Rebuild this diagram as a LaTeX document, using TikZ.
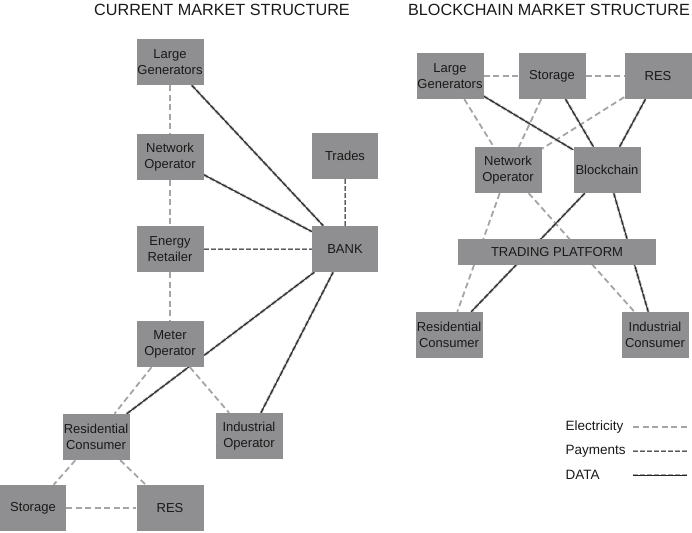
\documentclass[tikz,border=0pt]{standalone}
\usepackage{fontspec}
\setmainfont{Liberation Sans}
\usetikzlibrary{backgrounds}
\definecolor{boxfill}{RGB}{143,143,145}
\definecolor{elgray}{RGB}{165,165,165}
\definecolor{txt}{RGB}{25,25,25}
\tikzset{
  box/.style={fill=boxfill, minimum width=67pt, minimum height=46pt, inner sep=0pt,
    align=center, font=\fontsize{13}{16}\selectfont, text=txt},
  title/.style={font=\fontsize{16.2}{19}\selectfont, text=txt},
  legtext/.style={font=\fontsize{13.5}{15}\selectfont, text=txt, anchor=west},
  elec/.style={draw=elgray, line width=1.8pt, dash pattern=on 6pt off 3.5pt},
  paydata/.style={preaction={draw=elgray, line width=2.6pt, dash pattern=on 5pt off 2pt},
    draw=black!85, line width=1pt},
  pay/.style={preaction={draw=elgray, line width=2.4pt, dash pattern=on 5pt off 2pt},
    draw=black!65, line width=0.8pt, dash pattern=on 5pt off 2pt},
}
\begin{document}
\begin{tikzpicture}[x=1pt,y=-1pt]
\useasboundingbox (0,0) rectangle (692,532);
% titles
\node[title] (t1) at (222,10) {CURRENT MARKET STRUCTURE};
\node[title] (t2) at (549,10) {BLOCKCHAIN MARKET STRUCTURE};
% left nodes
\node[box] (lg) at (170,62) {Large\\Generators};
\node[box] (no) at (170,157) {Network\\Operator};
\node[box] (er) at (170,249) {Energy\\Retailer};
\node[box] (mo) at (170,344) {Meter\\Operator};
\node[box] (rc) at (96,437) {Residential\\Consumer};
\node[box] (io) at (249,436) {Industrial\\Operator};
\node[box, minimum width=66pt] (st) at (33,508) {Storage};
\node[box] (res) at (170,508) {RES};
\node[box, minimum width=66pt] (tr) at (345,156) {Trades};
\node[box, minimum width=66pt] (bank) at (345,249) {BANK};
% right nodes
\node[box] (rlg) at (450,76) {Large\\Generators};
\node[box] (rst) at (552,76) {Storage};
\node[box] (rres) at (658,76) {RES};
\node[box] (rno) at (508,170) {Network\\Operator};
\node[box] (rbc) at (607,170) {Blockchain};
\node[box, minimum width=198pt, minimum height=26pt] (tp) at (557,252) {TRADING PLATFORM};
\node[box] (rrc) at (449,335) {Residential\\Consumer};
\node[box] (ric) at (655,335) {Industrial\\Consumer};
% legend
\node[legtext] (l1) at (562,427) {Electricity};
\node[legtext] (l2) at (562,451) {Payments};
\node[legtext] (l3) at (562,475) {DATA};
\coordinate (a1) at (633,427); \coordinate (b1) at (687,427);
\coordinate (a2) at (633,451); \coordinate (b2) at (687,451);
\coordinate (a3) at (633,475); \coordinate (b3) at (687,475);
\draw[elec] (a1) -- (b1);
\draw[pay] (a2) -- (b2);
\draw[paydata] (a3) -- (b3);
\begin{pgfonlayer}{background}
% left connectors
\draw[elec] (lg) -- (no);
\draw[elec] (no) -- (er);
\draw[elec] (er) -- (mo);
\draw[elec] (mo) -- (rc);
\draw[elec] (mo) -- (io);
\draw[elec] (rc) -- (st);
\draw[elec] (rc) -- (res);
\draw[elec] (st) -- (res);
\draw[pay] (tr) -- (bank);
\draw[paydata] (lg) -- (bank);
\draw[paydata] (no) -- (bank);
\draw[pay] (er) -- (bank);
\draw[paydata] (rc) -- (bank);
\draw[paydata] (io) -- (bank);
% right connectors
\draw[elec] (rlg) -- (rst);
\draw[elec] (rst) -- (rres);
\draw[elec] (rlg) -- (rno);
\draw[elec] (rst) -- (rno);
\draw[elec] (rres) -- (rno);
\draw[elec] (rno) -- (rrc);
\draw[elec] (rno) -- (ric);
\draw[paydata] (rlg) -- (rbc);
\draw[paydata] (rst) -- (rbc);
\draw[paydata] (rres) -- (rbc);
\draw[paydata] (rbc) -- (rrc);
\draw[paydata] (rbc) -- (ric);
\end{pgfonlayer}
\end{tikzpicture}
\end{document}
